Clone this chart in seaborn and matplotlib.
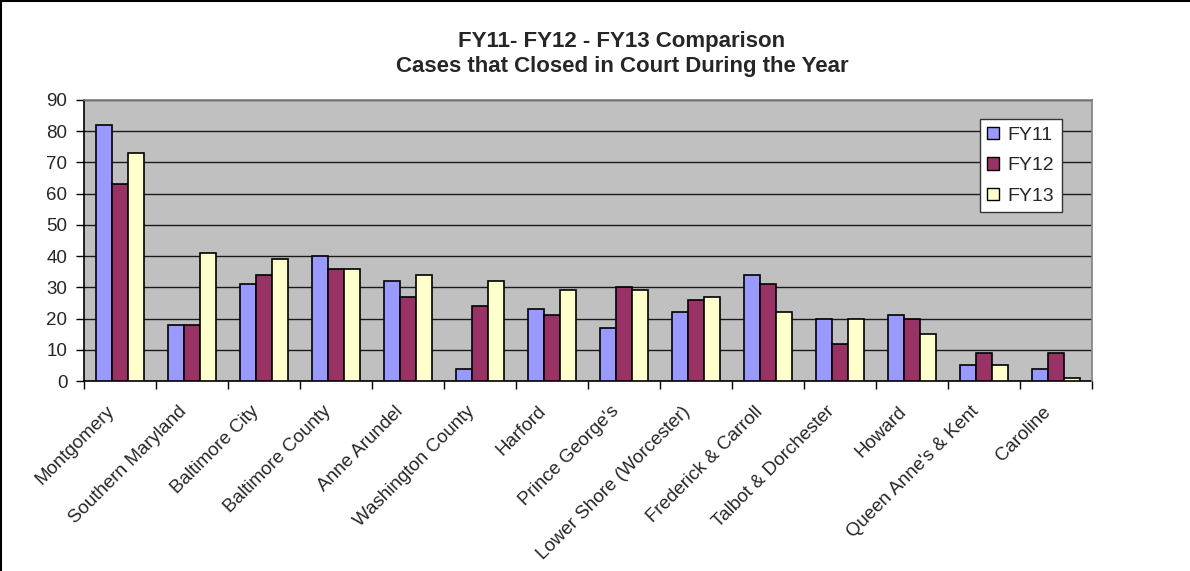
import matplotlib
matplotlib.use("Agg")
import matplotlib.pyplot as plt
import matplotlib.transforms as mtransforms
import seaborn as sns
import pandas as pd
from matplotlib.lines import Line2D

categories = ["Montgomery", "Southern Maryland", "Baltimore City", "Baltimore County",
              "Anne Arundel", "Washington County", "Harford", "Prince George's",
              "Lower Shore (Worcester)", "Frederick & Carroll", "Talbot & Dorchester",
              "Howard", "Queen Anne's & Kent", "Caroline"]
fy11 = [82, 18, 31, 40, 32, 4, 23, 17, 22, 34, 20, 21, 5, 4]
fy12 = [63, 18, 34, 36, 27, 24, 21, 30, 26, 31, 12, 20, 9, 9]
fy13 = [73, 41, 39, 36, 34, 32, 29, 29, 27, 22, 20, 15, 5, 1]
series = ["FY11", "FY12", "FY13"]
colors = ["#9999FF", "#993366", "#FFFFCC"]

df = pd.DataFrame({
    "cat": categories * 3,
    "val": fy11 + fy12 + fy13,
    "year": [s for s in series for _ in categories],
})

sns.set_theme(style="white")
plt.rcParams['font.family'] = ['Liberation Sans', 'DejaVu Sans']

W, H = 1190, 571
fig = plt.figure(figsize=(W / 100, H / 100), dpi=100)
ax = fig.add_axes([84 / W, 1 - 381 / H, (1092 - 84) / W, (381 - 100) / H])
ax.set_facecolor("#C0C0C0")

sns.barplot(data=df, x="cat", y="val", hue="year", palette=colors, order=categories,
            hue_order=series, width=0.68, edgecolor="black", linewidth=1.2,
            saturation=1, ax=ax, zorder=3)

ax.set_ylim(0, 90)
ax.set_xlim(-0.5, len(categories) - 0.5)
ax.set_yticks(range(0, 91, 10))
ax.yaxis.grid(True, color="#1a1a1a", linewidth=1)
ax.set_axisbelow(True)
for name, s in ax.spines.items():
    s.set_visible(True)
    s.set_linewidth(1.2)
    s.set_color("#808080")
ax.spines["left"].set_color("black")
ax.spines["bottom"].set_color("black")
ax.spines["top"].set_zorder(5)
ax.spines["right"].set_zorder(5)
ax.set_xlabel("")
ax.set_ylabel("")

# category boundary ticks
ax.set_xticks([i - 0.5 for i in range(len(categories) + 1)], minor=True)
ax.tick_params(axis="x", which="minor", length=6, width=1, color="black", direction="out", bottom=True)
ax.tick_params(axis="x", which="major", length=0, pad=0)
ax.tick_params(axis="y", length=6, width=1, color="black", direction="out", left=True,
               labelsize=13.5, pad=6)
ax.set_xticks(range(len(categories)))
ax.set_xticklabels(categories, rotation=45, ha="right", va="top", rotation_mode="anchor",
                   fontsize=13.5)
offset = mtransforms.ScaledTranslation(-14 / 100, -22 / 100, fig.dpi_scale_trans)
for lbl in ax.get_xticklabels():
    lbl.set_transform(lbl.get_transform() + offset)

fig.text(622 / W, 1 - 31 / H,
         "FY11- FY12 - FY13 Comparison\nCases that Closed in Court During the Year",
         ha="center", va="top", fontsize=16, fontweight="bold", linespacing=1.25)

leg = ax.legend(loc="upper right", bbox_to_anchor=((1062 - 84) / 1008, (381 - 119) / 281),
                borderaxespad=0, frameon=True, fontsize=14,
                fancybox=False, edgecolor="#333333", framealpha=1, handlelength=0.62,
                handleheight=0.62, borderpad=0.4, labelspacing=0.68, handletextpad=0.42)
leg.get_frame().set_linewidth(1)
for h in leg.legend_handles:
    h.set_edgecolor("black")
    h.set_linewidth(1)

# chart border (top and left visible)
fig.add_artist(Line2D([0.5 / W, 0.5 / W], [0, 1], transform=fig.transFigure, color="black", lw=1.5))
fig.add_artist(Line2D([0, 1], [1 - 0.5 / H, 1 - 0.5 / H], transform=fig.transFigure, color="black", lw=1.5))

fig.savefig("out.png", dpi=100)
